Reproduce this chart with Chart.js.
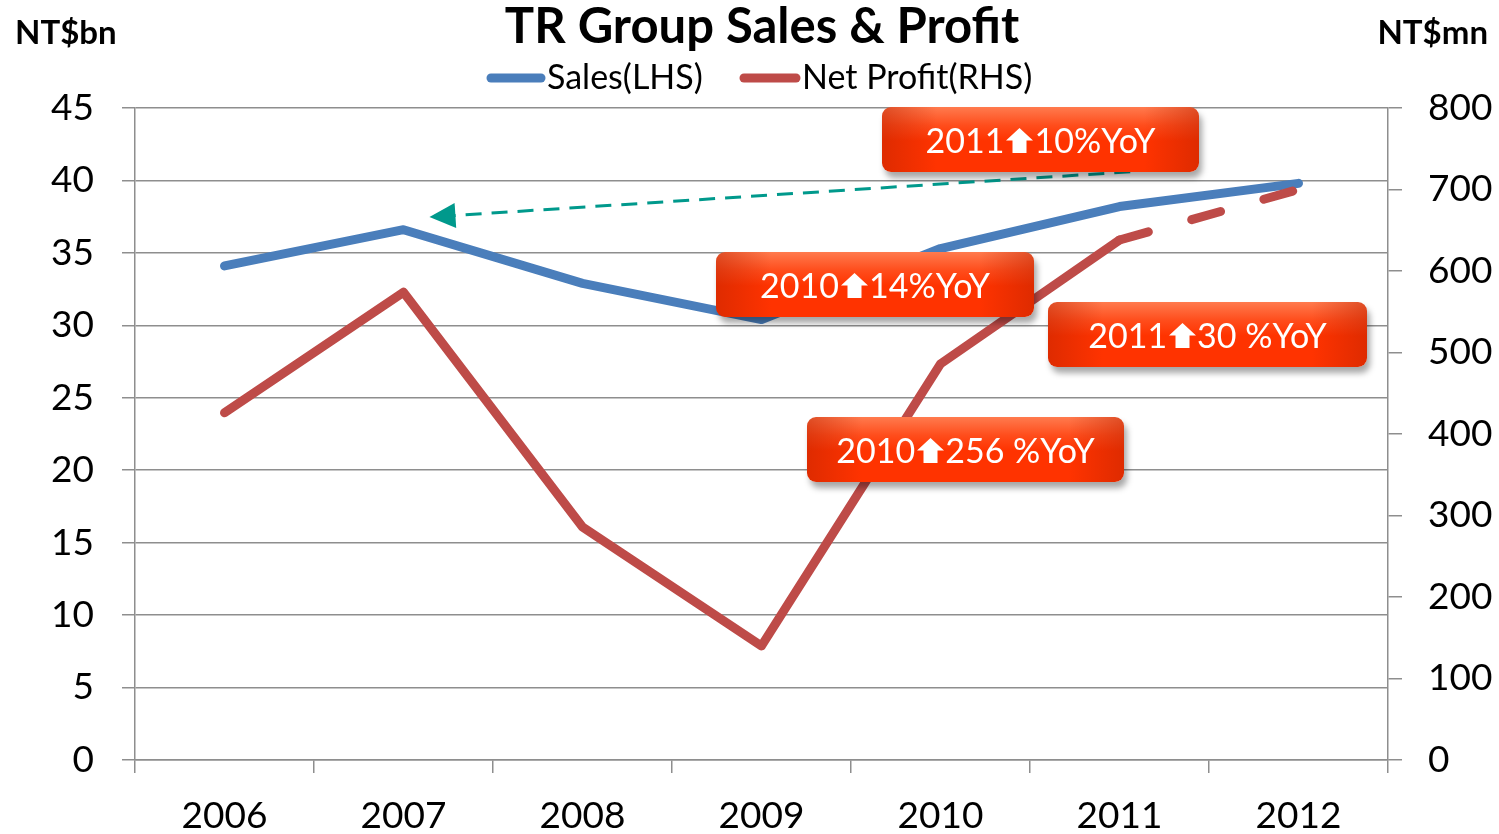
<!DOCTYPE html>
<html>
<head>
<meta charset="utf-8">
<script src="https://cdn.jsdelivr.net/npm/chart.js@4/dist/chart.umd.min.js"></script>
<style>
html, body { margin: 0; padding: 0; background: #fff; }
#cadre { position: relative; width: 1499px; height: 834px; }
#graphe { position: absolute; left: 0; top: 0; }
.bulle {
    position: absolute; height: 65px; border-radius: 9px;
    color: #fff; font-family: Lato, sans-serif; font-size: 34px; line-height: 65px;
    text-align: center; white-space: nowrap;
    background:
        linear-gradient(to right, rgba(190,35,0,.5) 0px, rgba(190,35,0,0) 55px, rgba(190,35,0,0) calc(100% - 55px), rgba(190,35,0,.5) 100%),
        linear-gradient(to bottom, #ff7b4e 0%, #ff4d1c 28%, #ff3300 52%, #ff3300 100%);
    box-shadow: 3px 6px 6px rgba(0,0,0,.35);
}
.bulle svg { vertical-align: baseline; margin: 0 1px 0 2px; }
</style>
</head>
<body>
<div id="cadre">
    <canvas id="graphe" width="1499" height="834"></canvas>
    <div class="bulle" style="left:882px; top:107px; width:317px;">2011<svg width="27" height="25" viewBox="0 0 27 25"><polygon points="13.5,0 27,12.5 20.5,12.5 20.5,25 6.5,25 6.5,12.5 0,12.5" fill="#fff"/></svg>10%YoY</div>
    <div class="bulle" style="left:716px; top:252px; width:318px;">2010<svg width="27" height="25" viewBox="0 0 27 25"><polygon points="13.5,0 27,12.5 20.5,12.5 20.5,25 6.5,25 6.5,12.5 0,12.5" fill="#fff"/></svg>14%YoY</div>
    <div class="bulle" style="left:1048px; top:302px; width:319px;">2011<svg width="27" height="25" viewBox="0 0 27 25"><polygon points="13.5,0 27,12.5 20.5,12.5 20.5,25 6.5,25 6.5,12.5 0,12.5" fill="#fff"/></svg>30 %YoY</div>
    <div class="bulle" style="left:807px; top:417px; width:317px;">2010<svg width="27" height="25" viewBox="0 0 27 25"><polygon points="13.5,0 27,12.5 20.5,12.5 20.5,25 6.5,25 6.5,12.5 0,12.5" fill="#fff"/></svg>256 %YoY</div>
</div>
<script>
"use strict";

var annees = ["2006", "2007", "2008", "2009", "2010", "2011", "2012"];
var ventes = [34.1, 36.6, 32.9, 30.4, 35.3, 38.2, 39.8];      // NT$bn, axe gauche
var benefice = [426, 574, 286, 140, 486, 638, 700];          // NT$mn, axe droit
var ticksVentes = [0, 5, 10, 15, 20, 25, 30, 35, 40, 45];
var ticksBenefice = [0, 100, 200, 300, 400, 500, 600, 700, 800];

var bleu = '#4a7ebb';
var rouge = '#be4b48';
var gris = '#8e8e8e';

Chart.defaults.font.family = 'Lato';
Chart.defaults.color = '#000';

var decor = {
    id: 'decor',
    afterDatasetsDraw: function (chart) {
        var ctx = chart.ctx;
        var x = chart.scales.x, y = chart.scales.y;
        // fleche pointillee 2011 -> 2007
        var x0 = x.getPixelForValue(5.06), y0 = y.getPixelForValue(40.6);
        var x1 = x.getPixelForValue(1.145), y1 = y.getPixelForValue(37.47);
        var ang = Math.atan2(y1 - y0, x1 - x0);
        ctx.save();
        ctx.strokeStyle = '#00998c';
        ctx.fillStyle = '#00998c';
        ctx.lineWidth = 3;
        ctx.setLineDash([16, 10]);
        ctx.beginPath();
        ctx.moveTo(x0, y0);
        ctx.lineTo(x1 - 22 * Math.cos(ang), y1 - 22 * Math.sin(ang));
        ctx.stroke();
        ctx.setLineDash([]);
        ctx.translate(x1, y1);
        ctx.rotate(ang);
        ctx.beginPath();
        ctx.moveTo(0, 0);
        ctx.lineTo(-26, -12.5);
        ctx.lineTo(-26, 12.5);
        ctx.closePath();
        ctx.fill();
        ctx.restore();
    },
    afterDraw: function (chart) {
        var ctx = chart.ctx;
        ctx.save();
        ctx.fillStyle = '#000';
        ctx.textBaseline = 'middle';
        ctx.font = 'bold 49px Lato';
        ctx.textAlign = 'center';
        ctx.fillText('TR Group Sales & Profit', 762, 27);
        ctx.font = 'bold 33px Lato';
        ctx.textAlign = 'left';
        ctx.fillText('NT$bn', 15, 33);
        ctx.textAlign = 'right';
        ctx.fillText('NT$mn', 1488, 33);
        // legende
        ctx.lineCap = 'round';
        ctx.lineWidth = 9;
        var items = [[bleu, 491, 541, 'Sales(LHS)', 547], [rouge, 744, 796, 'Net Profit(RHS)', 802]];
        items.forEach(function (it) {
            ctx.strokeStyle = it[0];
            ctx.beginPath();
            ctx.moveTo(it[1], 78);
            ctx.lineTo(it[2], 78);
            ctx.stroke();
            ctx.font = '34px Lato';
            ctx.textAlign = 'left';
            ctx.fillText(it[3], it[4], 78);
        });
        ctx.restore();
    }
};

new Chart(document.getElementById('graphe').getContext('2d'), {
    type: 'line',
    data: {
        labels: annees,
        datasets: [{
            label: 'Net Profit(RHS)',
            data: benefice,
            yAxisID: 'y1',
            borderColor: rouge,
            borderWidth: 9,
            borderCapStyle: 'round',
            borderJoinStyle: 'round',
            pointRadius: 0,
            order: 0,
            segment: {
                borderDash: function (c) { return c.p0DataIndex === 5 ? [30, 45] : undefined; }
            }
        }, {
            label: 'Sales(LHS)',
            data: ventes,
            yAxisID: 'y',
            borderColor: bleu,
            borderWidth: 9,
            borderCapStyle: 'round',
            borderJoinStyle: 'round',
            pointRadius: 0,
            order: 1
        }]
    },
    options: {
        responsive: false,
        animation: false,
        devicePixelRatio: 1,
        layout: { padding: { top: 108, left: 0, right: 0, bottom: 0 } },
        plugins: {
            legend: { display: false },
            title: { display: false },
            tooltip: { enabled: false }
        },
        scales: {
            x: {
                offset: true,
                grid: { offset: true, drawOnChartArea: false, color: gris, lineWidth: 1.5, tickLength: 13 },
                border: { color: gris, width: 1.5 },
                ticks: { font: { size: 37 }, padding: 21, maxRotation: 0 },
                afterFit: function (s) { s.height = 74; }
            },
            y: {
                position: 'left',
                min: 0, max: 45,
                afterBuildTicks: function (s) { s.ticks = ticksVentes.map(function (v) { return { value: v }; }); },
                grid: { color: gris, lineWidth: 1.5, tickLength: 13 },
                border: { color: gris, width: 1.5 },
                ticks: { font: { size: 37 }, padding: 28 },
                afterFit: function (s) { s.width = 135; }
            },
            y1: {
                position: 'right',
                min: 0, max: 800,
                afterBuildTicks: function (s) { s.ticks = ticksBenefice.map(function (v) { return { value: v }; }); },
                grid: { drawOnChartArea: false, color: gris, lineWidth: 1.5, tickLength: 14 },
                border: { color: gris, width: 1.5 },
                ticks: { font: { size: 37 }, padding: 26 },
                afterFit: function (s) { s.width = 111; }
            }
        }
    },
    plugins: [decor]
});
</script>
</body>
</html>
